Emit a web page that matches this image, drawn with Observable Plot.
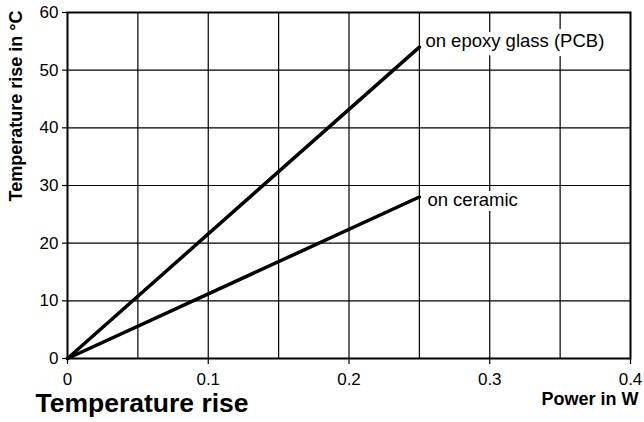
<!DOCTYPE html>
<html><head><meta charset="utf-8">
<script src="https://cdn.jsdelivr.net/npm/d3@7"></script>
<script src="https://cdn.jsdelivr.net/npm/@observablehq/plot@0.6"></script>
<style>body{margin:0;background:#fff}</style>
</head><body><div id="chart"></div>
<script>
const powerW = [0, 0.25];
const epoxyC = [0, 54];
const ceramicC = [0, 28];
const seriesNames = ["on epoxy glass (PCB)", "on ceramic"];
const xTicks = [0, 0.1, 0.2, 0.3, 0.4];
const yTicks = [0, 10, 20, 30, 40, 50, 60];
const xGrid = [0.05, 0.1, 0.15, 0.2, 0.25, 0.3, 0.35];
const yGrid = [10, 20, 30, 40, 50];
const xLabel = "Power in W";
const yLabel = "Temperature rise in \u00B0C";
const title = "Temperature rise";

const series = [
  {name: seriesNames[0], values: epoxyC},
  {name: seriesNames[1], values: ceramicC}
];
const rows = series.flatMap(s => powerW.map((p, i) => ({name: s.name, x: p, y: s.values[i]})));
const ends = series.map(s => ({name: s.name, x: powerW[powerW.length - 1], y: s.values[s.values.length - 1]}));

const chart = Plot.plot({
  width: 644,
  height: 422,
  marginLeft: 67,
  marginRight: 14,
  marginTop: 12,
  marginBottom: 64,
  style: {fontFamily: "'Liberation Sans', Arial, Helvetica, sans-serif", fontSize: "17px", color: "black", background: "white"},
  x: {domain: [0, 0.4]},
  y: {domain: [0, 60]},
  marks: [
    Plot.ruleX(xGrid, {stroke: "black", strokeWidth: 1.2}),
    Plot.ruleY(yGrid, {stroke: "black", strokeWidth: 1.2}),
    Plot.frame({stroke: "black", strokeWidth: 2}),
    Plot.axisX({ticks: xTicks, tickSize: 6, tickPadding: 8, label: null, fontSize: 17, strokeWidth: 1.2, tickFormat: d3.format("~g")}),
    Plot.axisY({ticks: yTicks, tickSize: 5, tickPadding: 4, label: null, fontSize: 17, strokeWidth: 1.2}),
    Plot.line(rows, {x: "x", y: "y", z: "name", stroke: "black", strokeWidth: 3.5}),
    Plot.text(ends.filter((d, i) => i === 0), {x: "x", y: "y", text: "name", textAnchor: "start", dx: 6, dy: -6, fontSize: 18.5, fill: "black", stroke: "white", strokeWidth: 10}),
    Plot.text(ends.filter((d, i) => i === 1), {x: "x", y: "y", text: "name", textAnchor: "start", dx: 8, dy: 3, fontSize: 18.5, fill: "black", stroke: "white", strokeWidth: 10}),
    Plot.text([xLabel], {frameAnchor: "bottom-right", dx: 8, dy: 41, textAnchor: "end", lineAnchor: "middle", fontSize: 18, fontWeight: "bold", fill: "black"}),
    Plot.text([yLabel], {frameAnchor: "top-left", dx: -51, dy: -2, rotate: -90, textAnchor: "end", lineAnchor: "middle", fontSize: 18, fontWeight: "bold", fill: "black"}),
    Plot.text([title], {frameAnchor: "bottom-left", dx: -32, dy: 45, textAnchor: "start", lineAnchor: "middle", fontSize: 26.5, fontWeight: "bold", fill: "black"})
  ]
});
document.getElementById("chart").appendChild(chart);
</script>
</body></html>
